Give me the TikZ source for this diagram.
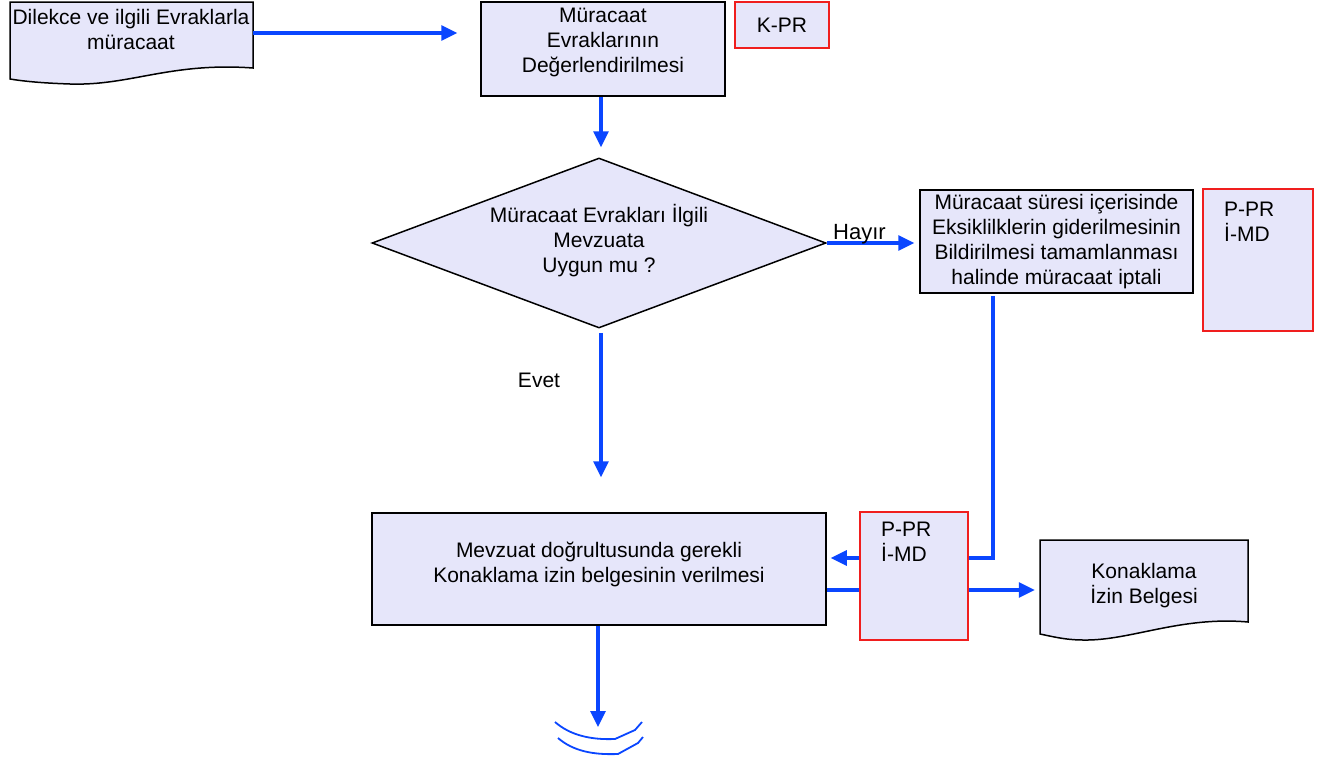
\documentclass[tikz,border=0pt]{standalone}
\usepackage{fontspec}
\setmainfont{Liberation Sans}
\usetikzlibrary{arrows.meta,shapes.geometric}
\definecolor{lav}{RGB}{230,230,250}
\definecolor{flowblue}{RGB}{10,70,255}
\definecolor{boxred}{RGB}{240,30,30}
\begin{document}
\begin{tikzpicture}[x=1pt,y=-1pt,
  every node/.style={font=\fontsize{21}{25}\selectfont, inner sep=0pt, align=center},
  procbox/.style={draw=black, line width=1.5pt, fill=lav, rectangle},
  refbox/.style={draw=boxred, line width=1.4pt, fill=lav, rectangle},
  docshape/.style={draw=black, line width=1.5pt, fill=lav},
  flowline/.style={draw=flowblue, line width=3.1pt},
  flowarrow/.style={flowline, -{Triangle[length=16pt,width=15pt]}},
  lbl/.style={font=\fontsize{21}{25}\selectfont}
]
\useasboundingbox (0,0) rectangle (1334,763);

% document 1
\draw[docshape] (10,2) -- (253,2) -- (253,68)
  .. controls (170,62) and (130,86) .. (70,84)
  .. controls (40,83) and (22,81) .. (10,79) -- cycle;
\node[minimum width=243pt, minimum height=62pt] (doc1) at (131.5,33) {};
\node (doc1t) at (131,29) {Dilekce ve ilgili Evraklarla\\müracaat};

% evaluation box
\node[procbox, minimum width=244pt, minimum height=94pt] (eval) at (603,49) {};
\node (evalt) at (603,42) {Müracaat\\Evraklarının\\Değerlendirilmesi};

% K-PR
\node[refbox, minimum width=94pt, minimum height=46pt] (kpr) at (782,25) {K-PR};

% decision
\node[draw=black, line width=1.5pt, fill=lav, diamond, minimum width=454pt, minimum height=170pt] (dia) at (599,243) {};
\node (diat) at (599,241) {Müracaat Evrakları İlgili\\Mevzuata\\Uygun mu ?};

% notification box
\node[procbox, minimum width=273pt, minimum height=103pt] (notif) at (1056.5,241.5)
  {Müracaat süresi içerisinde\\Eksiklilklerin giderilmesinin\\Bildirilmesi tamamlanması\\halinde müracaat iptali};

% P-PR 1
\node[refbox, minimum width=110pt, minimum height=142pt] (ppr1) at (1258,260) {};
\node[anchor=north west, align=left] (ppr1t) at (1224,202) {P-PR\\İ-MD};

% main box
\node[procbox, minimum width=454pt, minimum height=112pt] (main) at (599,569) {};
\node (maint) at (599,564) {Mevzuat doğrultusunda gerekli\\Konaklama izin belgesinin verilmesi};

% P-PR 2
\node[refbox, minimum width=108pt, minimum height=128pt] (ppr2) at (914,576) {};
\node[anchor=north west, align=left] (ppr2t) at (881,522) {P-PR\\İ-MD};

% document 2
\draw[docshape] (1040,540) -- (1248,540) -- (1248,622)
  .. controls (1180,616) and (1130,641) .. (1083,640)
  .. controls (1065,640) and (1050,636) .. (1040,634) -- cycle;
\node[minimum width=208pt, minimum height=80pt] (doc2) at (1144,580) {};
\node (doc2t) at (1144,586) {Konaklama\\İzin Belgesi};

% connectors
\draw[flowarrow, shorten >=23pt] (doc1.east) -- (eval.west |- doc1.east);
\draw[flowarrow, shorten >=10pt] ([xshift=-2pt]eval.south) -- ([xshift=2pt]dia.north);
\draw[flowarrow, shorten >=5pt] (dia.east) -- (dia.east -| notif.west);
\node[lbl, font=\fontsize{22}{26}\selectfont, anchor=base west] (hayir) at (833,239) {Hayır};
\draw[flowarrow, shorten <=4pt, shorten >=35pt] ([xshift=2pt]dia.south) -- ([xshift=2pt]main.north);
\node[lbl] (evet) at (539,380) {Evet};

\coordinate (n1) at (993,296);
\coordinate (p2ea) at ([yshift=18pt]ppr2.east);
\coordinate (p2wa) at ([yshift=18pt]ppr2.west);
\coordinate (p2eb) at ([yshift=-14pt]ppr2.east);
\coordinate (p2wb) at ([yshift=-14pt]ppr2.west);
\draw[flowline] (n1) |- (p2ea);
\draw[flowarrow, shorten >=4pt] (p2wa) -- (p2wa -| main.east);
\draw[flowline] (p2wb -| main.east) -- (p2wb);
\draw[flowarrow, shorten >=5pt] (p2eb) -- (p2eb -| doc2.west);

\coordinate (offp) at (598,727);
\draw[flowarrow] (main.south -| offp) -- (offp);

% off-page connector arcs
\draw[draw=flowblue, line width=1.8pt] (555,722) .. controls (570,735) and (590,740) .. (615,739) -- (635,730) -- (642,722);
\draw[draw=flowblue, line width=1.8pt] (558,738) .. controls (573,751) and (593,755) .. (618,754) -- (638,743) -- (643,737);
\end{tikzpicture}
\end{document}
